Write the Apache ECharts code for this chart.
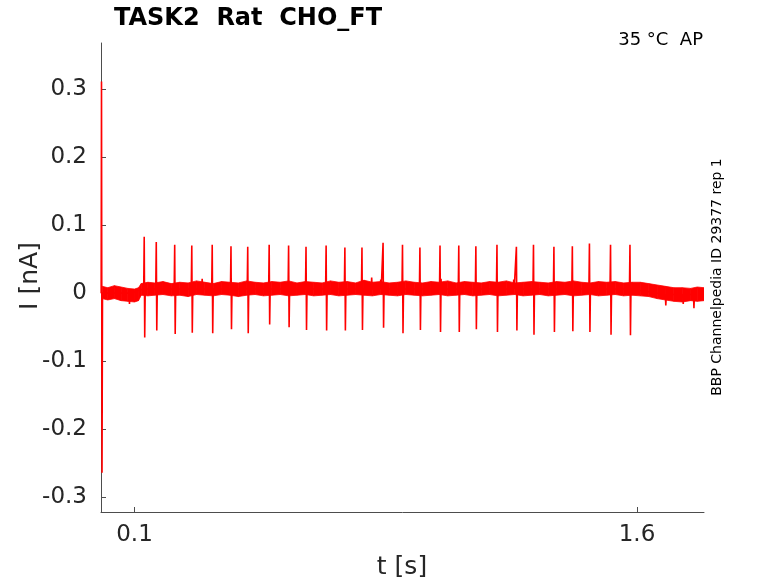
<!DOCTYPE html>
<html>
<head>
<meta charset="utf-8">
<script src="https://cdn.jsdelivr.net/npm/echarts@6/dist/echarts.min.js"></script>
<style>
html,body{margin:0;padding:0;background:#fff;}
#main{width:778px;height:583px;}
</style>
</head>
<body>
<div id="main"></div>
<script>
// spike times (s), peak and trough currents (nA)
var spikeT = [0.129,0.165,0.220,0.271,0.332,0.388,0.438,0.502,0.560,0.612,0.672,0.728,0.779,0.842,
              0.900,0.952,1.012,1.068,1.119,1.182,1.240,1.291,1.352,1.407,1.458,1.521,1.579];
var spikeTop = [0.083,0.075,0.071,0.070,0.071,0.069,0.068,0.071,0.070,0.068,0.070,0.067,0.067,0.074,
                0.071,0.067,0.070,0.070,0.069,0.071,0.068,0.071,0.068,0.069,0.073,0.071,0.071];
var spikeBot = [-0.065,-0.055,-0.060,-0.058,-0.059,-0.053,-0.059,-0.046,-0.050,-0.054,-0.055,-0.055,-0.054,-0.051,
                -0.059,-0.054,-0.057,-0.057,-0.053,-0.057,-0.055,-0.061,-0.057,-0.056,-0.057,-0.061,-0.062];

// onset transient
var onsetT = [0.0005,0.0015,0.003,0.0045];
var onsetI = [0.000,0.311,-0.264,0.000];

// noise outliers poking out of the band
var blipT = [0.085,0.302,0.808,0.835,1.015,1.232,1.686,1.738,1.770];
var blipI = [-0.016,0.021,0.023,0.020,0.021,0.020,-0.018,-0.016,-0.022];

// noise band envelope
var bandT = [0.004,0.02,0.04,0.06,0.08,0.10,0.112,0.12,0.14,
  0.16,0.185,0.21,0.235,0.26,0.285,0.31,0.335,0.36,0.385,0.41,0.435,0.46,0.485,0.51,0.535,0.56,0.585,
  0.61,0.635,0.66,0.685,0.71,0.735,0.76,0.785,0.81,0.835,0.86,0.885,0.91,0.935,0.96,0.985,1.01,1.035,
  1.06,1.085,1.11,1.135,1.16,1.185,1.21,1.235,1.26,1.285,1.31,1.335,1.36,1.385,1.41,1.435,1.46,1.485,
  1.51,1.535,1.56,1.585,1.61,1.635,1.66,1.685,1.71,1.735,1.76,1.78,1.80];
var bandHi = [0.010,0.008,0.011,0.009,0.007,0.006,0.008,0.014,0.016,
  0.015,0.017,0.014,0.016,0.015,0.018,0.016,0.014,0.017,0.016,0.015,0.018,0.016,0.015,0.017,0.016,0.018,0.015,
  0.017,0.016,0.015,0.018,0.016,0.017,0.015,0.019,0.016,0.017,0.015,0.016,0.018,0.016,0.015,0.017,0.016,0.018,
  0.015,0.017,0.016,0.015,0.017,0.016,0.018,0.015,0.016,0.017,0.016,0.015,0.017,0.016,0.018,0.016,0.015,0.017,
  0.016,0.017,0.015,0.016,0.016,0.014,0.012,0.010,0.008,0.008,0.007,0.009,0.008];
var bandLo = [-0.008,-0.010,-0.008,-0.011,-0.012,-0.013,-0.011,-0.003,-0.004,
  -0.003,-0.002,-0.004,-0.003,-0.005,-0.002,-0.003,-0.004,-0.002,-0.003,-0.005,-0.003,-0.002,-0.004,-0.003,-0.002,-0.004,-0.003,
  -0.002,-0.004,-0.003,-0.002,-0.004,-0.003,-0.002,-0.003,-0.004,-0.002,-0.003,-0.004,-0.002,-0.003,-0.004,-0.003,-0.002,-0.004,
  -0.003,-0.002,-0.004,-0.003,-0.002,-0.004,-0.003,-0.002,-0.004,-0.003,-0.002,-0.004,-0.003,-0.002,-0.004,-0.003,-0.002,-0.004,
  -0.003,-0.002,-0.004,-0.003,-0.004,-0.005,-0.008,-0.010,-0.012,-0.013,-0.011,-0.012,-0.011];

var yTicks = [-0.3,-0.2,-0.1,0,0.1,0.2,0.3];
var xTicks = [0.1,1.6];

var chart = echarts.init(document.getElementById('main'));

// trace: onset + spikes + blips, each excursion leaving and returning to the band
var events = [];
for (var j = 0; j < spikeT.length; j++) events.push({t: spikeT[j], pts: [spikeTop[j], spikeBot[j]]});
for (var b = 0; b < blipT.length; b++) events.push({t: blipT[b], pts: [blipI[b]]});
events.sort(function (p, q) { return p.t - q.t; });

var trace = [];
for (var i = 0; i < onsetT.length; i++) trace.push([onsetT[i], onsetI[i]]);
events.forEach(function (ev) {
  var base = ev.t < 0.115 ? 0 : (ev.t > 1.66 ? -0.002 : 0.006);
  trace.push([ev.t - 0.0015, base]);
  ev.pts.forEach(function (v, n) { trace.push([ev.t + n * 0.0015, v]); });
  trace.push([ev.t + ev.pts.length * 0.0015, base]);
});

// band segments: [t0, hi0, lo0, t1, hi1, lo1]
var bandSeg = [];
for (var k = 0; k < bandT.length - 1; k++) {
  bandSeg.push([bandT[k], bandHi[k], bandLo[k], bandT[k + 1], bandHi[k + 1], bandLo[k + 1]]);
}

var axisCol = '#4d4d4d';
var txtCol = '#262626';
var fam = 'DejaVu Sans';

var option = {
  animation: false,
  grid: {left: 101, top: 43, width: 603, height: 469},
  xAxis: {
    type: 'value', min: 0, max: 1.8,
    axisLine: {show: true, onZero: false, lineStyle: {color: axisCol, width: 1}},
    axisTick: {show: true, inside: true, length: 5, customValues: xTicks, lineStyle: {color: axisCol}},
    axisLabel: {customValues: xTicks, color: txtCol, fontSize: 23, fontFamily: fam, margin: 12,
      formatter: function (v) { return String(Math.round(v * 10) / 10); }},
    splitLine: {show: false}
  },
  yAxis: {
    type: 'value', min: -0.3216, max: 0.3676,
    axisLine: {show: true, onZero: false, lineStyle: {color: axisCol, width: 1}},
    axisTick: {show: true, inside: true, length: 5, customValues: yTicks, lineStyle: {color: axisCol}},
    axisLabel: {customValues: yTicks, color: txtCol, fontSize: 23, fontFamily: fam, margin: 14,
      formatter: function (v) { return String(Math.round(v * 10) / 10); }},
    splitLine: {show: false}
  },
  series: [
    {type: 'custom', data: bandSeg, silent: true, clip: true,
     encode: {x: [0, 3], y: [1, 2, 4, 5]},
     renderItem: function (params, api) {
       var a = api.coord([api.value(0), api.value(1)]);
       var b = api.coord([api.value(3), api.value(4)]);
       var c = api.coord([api.value(3), api.value(5)]);
       var d = api.coord([api.value(0), api.value(2)]);
       return {type: 'polygon', shape: {points: [a, b, c, d]},
               style: {fill: '#ff0000', stroke: '#ff0000', lineWidth: 0.8}};
     }},
    {type: 'line', data: trace, symbol: 'none',
     lineStyle: {width: 1.6, color: '#ff0000'}, silent: true}
  ],
  graphic: [
    {type: 'text', left: 114, top: 7,
     style: {text: 'TASK2  Rat  CHO_FT', fontSize: 24, fontWeight: 'bold', fontFamily: fam, fill: '#000'}},
    {type: 'text', right: 75, top: 31,
     style: {text: '35 \u00b0C \u00a0AP', fontSize: 18, fontFamily: fam, fill: '#000'}},
    {type: 'text', x: 717, y: 277, rotation: Math.PI / 2,
     style: {text: 'BBP Channelpedia ID 29377 rep 1', fontSize: 14, fontFamily: fam, fill: '#000',
             align: 'center', verticalAlign: 'middle'}},
    {type: 'text', x: 402, y: 567,
     style: {text: 't [s]', fontSize: 25, fontFamily: fam, fill: txtCol, align: 'center', verticalAlign: 'middle'}},
    {type: 'text', x: 30, y: 276, rotation: Math.PI / 2,
     style: {text: 'I [nA]', fontSize: 25, fontFamily: fam, fill: txtCol, align: 'center', verticalAlign: 'middle'}}
  ]
};
chart.setOption(option);
</script>
</body>
</html>
